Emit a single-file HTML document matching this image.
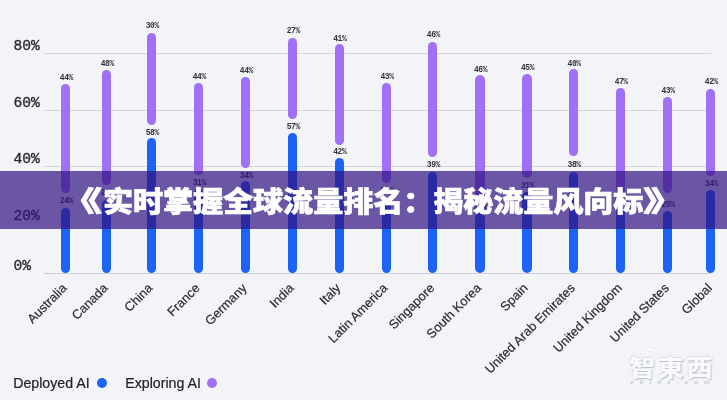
<!DOCTYPE html>
<html lang="zh">
<head>
<meta charset="utf-8">
<title>《实时掌握全球流量排名：揭秘流量风向标》</title>
<style>
html,body{margin:0;padding:0;}
body{width:727px;height:400px;overflow:hidden;background:#f2f4f8;position:relative;font-family:"Liberation Sans","Noto Sans CJK SC",sans-serif;}
#chart{position:absolute;left:0;top:0;width:727px;height:400px;overflow:hidden;background:#f2f4f8;}
#chart > div, #chart > span{position:absolute;}
.grid{height:1px;background:#d3d6db;}
.axis{height:1.3px;background:#c9ccd2;}
.yl{-webkit-text-stroke:0.35px #2a2b30;left:13.5px;font-family:"Liberation Mono",monospace;font-size:14.6px;color:#2a2b30;line-height:16px;height:16px;white-space:nowrap;letter-spacing:0;}
.p{background:#a070f6;border-radius:5px;}
.b{background:#1d63f5;border-radius:5px;}
.v{transform:scaleY(1.15);transform-origin:50% 45%;font-family:"Liberation Mono",monospace;font-weight:bold;font-size:8px;letter-spacing:-0.45px;color:#33353b;line-height:8px;height:8px;width:30px;text-align:center;white-space:nowrap;}
.xl{font-size:12.8px;-webkit-text-stroke:0.2px #2b2c31;color:#2b2c31;line-height:16px;height:16px;white-space:nowrap;transform-origin:100% 50%;transform:rotate(-45deg);text-align:right;}
.lg{font-size:14.2px;-webkit-text-stroke:0.2px #222329;color:#222329;line-height:16px;height:16px;white-space:nowrap;}
.dot{width:10px;height:10px;border-radius:50%;}
#banner{position:absolute;left:0;top:171px;width:727px;height:58px;background:rgba(48,18,130,0.7);}
#title{position:absolute;left:0;top:171px;width:727px;height:57px;line-height:57px;color:#fff;font-family:"Liberation Sans","Noto Sans CJK SC",sans-serif;font-weight:900;font-size:27.4px;letter-spacing:-0.1px;white-space:nowrap;-webkit-text-stroke:0.6px #fff;}
#title span{position:absolute;top:2.6px;display:inline-block;transform-origin:0 50%;}
#title .mid{left:103.1px;transform:scale(1.10,1.035);}
#title .lb{left:59.0px;transform:scale(1.58,1.035);}
#title .rb{left:643px;transform:scale(1.58,1.035);}
.wm{transform-origin:0 100%;transform:scale(1.06,0.9);font-family:"Liberation Sans","Noto Sans CJK SC",sans-serif;font-weight:900;font-size:25px;letter-spacing:2px;line-height:30px;height:30px;color:#f9fafc;text-shadow:0.8px 1px 1.2px #b9bcc4,-0.6px -0.6px 1px #dcdee4;white-space:nowrap;}
.wm2{font-family:"Liberation Sans",sans-serif;font-style:italic;font-weight:bold;font-size:6px;letter-spacing:6.2px;line-height:8px;height:8px;color:#c3c6cc;white-space:nowrap;}
.arc{border:3px solid #f9fafc;border-color:#f9fafc transparent transparent transparent;border-radius:50%;filter:drop-shadow(0.6px 0.8px 0.6px #c3c6cd);}
</style>
</head>
<body>
<div id="chart">
<div class="grid" style="left:43.5px;top:52.5px;width:667.8px"></div>
<div class="grid" style="left:43.5px;top:109.9px;width:667.8px"></div>
<div class="grid" style="left:43.5px;top:166.3px;width:667.8px"></div>
<div class="axis" style="left:44px;top:272.6px;width:667.3px"></div>
<div class="yl" style="top:37.8px">80%</div>
<div class="yl" style="top:94.7px">60%</div>
<div class="yl" style="top:150.8px">40%</div>
<div class="yl" style="top:208.1px">20%</div>
<div class="yl" style="top:257.6px">0%</div>
<div class="p" style="left:61.3px;top:84.1px;width:9.2px;height:109.4px"></div><div class="b" style="left:61.3px;top:208.0px;width:9.2px;height:65.2px"></div><div class="v" style="left:51.4px;top:73.9px">44%</div><div class="v" style="left:51.4px;top:196.9px">24%</div><div class="xl" style="right:662.1px;top:277.5px">Australia</div>
<div class="p" style="left:102.2px;top:69.8px;width:9.2px;height:115.6px"></div><div class="b" style="left:102.2px;top:200.0px;width:9.2px;height:73.2px"></div><div class="v" style="left:92.3px;top:59.6px">48%</div><div class="v" style="left:92.3px;top:189.2px">28%</div><div class="xl" style="right:621.2px;top:277.5px">Canada</div>
<div class="p" style="left:147.2px;top:32.7px;width:9.2px;height:92.3px"></div><div class="b" style="left:147.2px;top:138.1px;width:9.2px;height:135.1px"></div><div class="v" style="left:137.3px;top:22.2px">30%</div><div class="v" style="left:137.3px;top:129.2px">58%</div><div class="xl" style="right:576.2px;top:277.5px">China</div>
<div class="p" style="left:194.2px;top:83.0px;width:9.2px;height:92.0px"></div><div class="b" style="left:194.2px;top:188.5px;width:9.2px;height:84.7px"></div><div class="v" style="left:184.3px;top:73.1px">44%</div><div class="v" style="left:184.3px;top:178.7px">31%</div><div class="xl" style="right:529.2px;top:277.5px">France</div>
<div class="p" style="left:241.3px;top:76.7px;width:9.2px;height:91.3px"></div><div class="b" style="left:241.3px;top:181.0px;width:9.2px;height:92.2px"></div><div class="v" style="left:231.4px;top:67.0px">44%</div><div class="v" style="left:231.4px;top:172.4px">34%</div><div class="xl" style="right:482.1px;top:277.5px">Germany</div>
<div class="p" style="left:288.2px;top:37.9px;width:9.2px;height:80.7px"></div><div class="b" style="left:288.2px;top:132.5px;width:9.2px;height:140.7px"></div><div class="v" style="left:278.3px;top:27.2px">27%</div><div class="v" style="left:278.3px;top:123.0px">57%</div><div class="xl" style="right:435.2px;top:277.5px">India</div>
<div class="p" style="left:334.7px;top:44.2px;width:9.2px;height:101.2px"></div><div class="b" style="left:334.7px;top:158.3px;width:9.2px;height:114.9px"></div><div class="v" style="left:324.8px;top:34.6px">41%</div><div class="v" style="left:324.8px;top:148.4px">42%</div><div class="xl" style="right:388.7px;top:277.5px">Italy</div>
<div class="p" style="left:381.9px;top:83.0px;width:9.2px;height:100.4px"></div><div class="b" style="left:381.9px;top:198.0px;width:9.2px;height:75.2px"></div><div class="v" style="left:372.0px;top:73.1px">43%</div><div class="v" style="left:372.0px;top:187.2px">29%</div><div class="xl" style="right:341.5px;top:277.5px">Latin America</div>
<div class="p" style="left:428.3px;top:41.5px;width:9.2px;height:115.7px"></div><div class="b" style="left:428.3px;top:172.0px;width:9.2px;height:101.2px"></div><div class="v" style="left:418.4px;top:31.0px">46%</div><div class="v" style="left:418.4px;top:161.3px">39%</div><div class="xl" style="right:295.1px;top:277.5px">Singapore</div>
<div class="p" style="left:475.4px;top:75.0px;width:9.2px;height:124.0px"></div><div class="b" style="left:475.4px;top:213.0px;width:9.2px;height:60.2px"></div><div class="v" style="left:465.5px;top:65.7px">46%</div><div class="v" style="left:465.5px;top:202.7px">22%</div><div class="xl" style="right:248.0px;top:277.5px">South Korea</div>
<div class="p" style="left:522.4px;top:73.6px;width:9.2px;height:104.8px"></div><div class="b" style="left:522.4px;top:192.0px;width:9.2px;height:81.2px"></div><div class="v" style="left:512.5px;top:63.5px">45%</div><div class="v" style="left:512.5px;top:182.0px">31%</div><div class="xl" style="right:201.0px;top:277.5px">Spain</div>
<div class="p" style="left:569.0px;top:69.0px;width:9.2px;height:86.8px"></div><div class="b" style="left:569.0px;top:171.5px;width:9.2px;height:101.7px"></div><div class="v" style="left:559.1px;top:60.2px">40%</div><div class="v" style="left:559.1px;top:161.3px">38%</div><div class="xl" style="right:154.4px;top:277.5px">United Arab Emirates</div>
<div class="p" style="left:616.1px;top:88.0px;width:9.2px;height:105.5px"></div><div class="b" style="left:616.1px;top:208.0px;width:9.2px;height:65.2px"></div><div class="v" style="left:606.2px;top:77.8px">47%</div><div class="v" style="left:606.2px;top:197.2px">26%</div><div class="xl" style="right:107.3px;top:277.5px">United Kingdom</div>
<div class="p" style="left:662.9px;top:96.8px;width:9.2px;height:96.7px"></div><div class="b" style="left:662.9px;top:211.0px;width:9.2px;height:62.2px"></div><div class="v" style="left:653.0px;top:86.6px">43%</div><div class="v" style="left:653.0px;top:200.7px">25%</div><div class="xl" style="right:60.5px;top:277.5px">United States</div>
<div class="p" style="left:706.3px;top:88.8px;width:9.2px;height:86.9px"></div><div class="b" style="left:706.3px;top:190.0px;width:9.2px;height:83.2px"></div><div class="v" style="left:696.4px;top:77.8px">42%</div><div class="v" style="left:696.4px;top:180.1px">34%</div><div class="xl" style="right:17.1px;top:277.5px">Global</div>
<div class="lg" style="left:13.2px;top:374.8px">Deployed AI</div>
<div class="dot" style="left:96.8px;top:377.8px;background:#1d63f5"></div>
<div class="lg" style="left:125.2px;top:374.8px">Exploring AI</div>
<div class="dot" style="left:207.2px;top:377.8px;background:#a070f6"></div>
<div class="wm" style="left:628.5px;top:350.5px">智東西</div>
<div class="arc" style="left:635.5px;top:347.5px;width:21px;height:21px"></div>
<div class="wm2" style="left:630.5px;top:378px">zhidx.com</div>
</div>
<div id="banner"></div>
<div id="title"><span class="lb">《</span><span class="mid">实时掌握全球流量排名：揭秘流量风向标</span><span class="rb">》</span></div>
</body>
</html>
